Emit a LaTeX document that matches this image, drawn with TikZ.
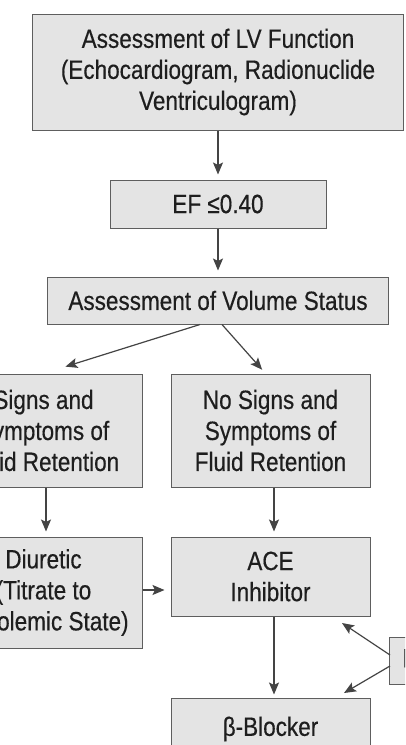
\documentclass[tikz,border=0pt]{standalone}
\usepackage{fontspec}
\setmainfont[FakeStretch=0.85,FakeBold=0.4]{Liberation Sans}
\usetikzlibrary{arrows.meta,calc}
\definecolor{boxfill}{HTML}{E4E4E4}
\definecolor{boxline}{HTML}{5E5E5E}
\definecolor{arrline}{HTML}{444444}
\definecolor{txt}{HTML}{1E1E1E}
\begin{document}
\begin{tikzpicture}[x=1pt,y=-1pt,
  box/.style={draw=boxline, fill=boxfill, line width=1pt, inner sep=0pt, align=center,
    text=txt, font=\fontsize{26.5}{31}\selectfont},
  arr/.style={draw=arrline, line width=1.2pt, -{Stealth[length=12pt,width=10pt,inset=2.5pt]}}]
\useasboundingbox (0,0) rectangle (405,745);
\clip (0,0) rectangle (405,745);
\fill[white] (0,0) rectangle (405,745);
\node[box, minimum width=371pt, minimum height=116pt] (lv) at (218,72)
  {Assessment of LV Function\\(Echocardiogram, Radionuclide\\Ventriculogram)};
\node[box, minimum width=216pt, minimum height=48pt] (ef) at (218,204) {EF ≤0.40};
\node[box, minimum width=341pt, minimum height=47pt] (vol) at (218,300.5) {Assessment of Volume Status};
\node[box, minimum width=197pt, minimum height=113pt] (signs) at (43.5,430.5)
  {Signs and\\Symptoms of\\Fluid Retention};
\node[box, minimum width=199pt, minimum height=113pt] (nosigns) at (270.5,430.5)
  {No Signs and\\Symptoms of\\Fluid Retention};
\node[box, minimum width=197pt, minimum height=111pt] (diur) at (43.5,592.5)
  {Diuretic\\(Titrate to\\Euvolemic State)};
\node[box, minimum width=199pt, minimum height=79pt] (ace) at (270.5,576.5) {ACE\\Inhibitor};
\node[box, minimum width=199pt, minimum height=62pt] (beta) at (270.5,729) {β-Blocker};
\node[box, anchor=west, inner xsep=13pt, minimum height=47pt] (dig) at (389,660.5) {Digoxin};
\coordinate (t1) at (342,623);
\coordinate (t2) at (344,693);
\draw[arr, shorten >=5pt] (lv.south) -- (ef.north);
\draw[arr, shorten >=6pt] (ef.south) -- (vol.north);
\draw[arr, shorten >=23pt] ([xshift=-18pt]vol.south) -- (signs.north);
\draw[arr, shorten >=5pt] ([xshift=4pt]vol.south) -- ([xshift=-5pt]nosigns.north);
\draw[arr, shorten >=5pt] ([xshift=2.5pt]signs.south) -- ([xshift=2.5pt]diur.north);
\draw[arr, shorten >=5pt] ([xshift=3.5pt]nosigns.south) -- ([xshift=3.5pt]ace.north);
\draw[arr, shorten >=6pt] ($(diur.east)+(0,-2.5)$) -- ($(diur.east -| ace.west)+(0,-2.5)$);
\draw[arr, shorten >=3pt] ([xshift=3.5pt]ace.south) -- ([xshift=3.5pt]beta.north);
\draw[arr] ($(dig.west)+(1,-5.5)$) -- (t1);
\draw[arr] ($(dig.west)+(1,5.5)$) -- (t2);
\end{tikzpicture}
\end{document}
